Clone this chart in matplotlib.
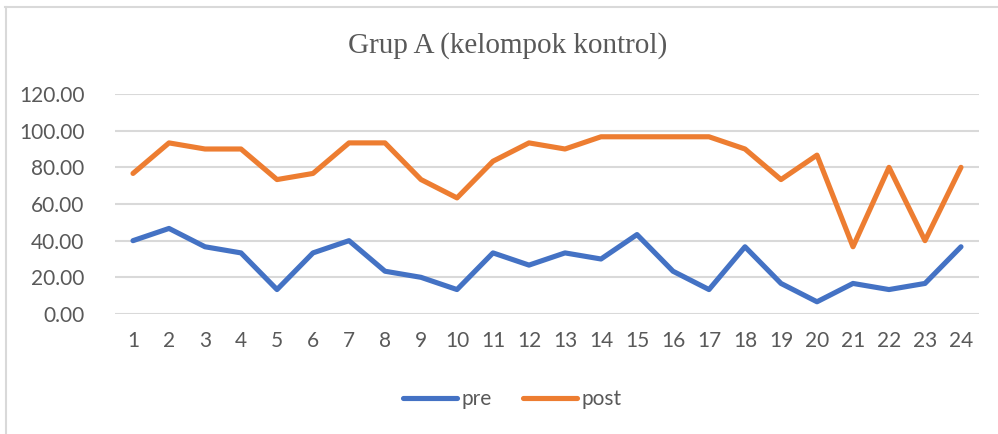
import matplotlib.pyplot as plt
from matplotlib.lines import Line2D

# data
responden = list(range(1, 25))
pre = [40.00, 46.67, 36.67, 33.33, 13.33, 33.33, 40.00, 23.33, 20.00, 13.33,
       33.33, 26.67, 33.33, 30.00, 43.33, 23.33, 13.33, 36.67, 16.67, 6.67,
       16.67, 13.33, 16.67, 36.67]
post = [76.67, 93.33, 90.00, 90.00, 73.33, 76.67, 93.33, 93.33, 73.33, 63.33,
        83.33, 93.33, 90.00, 96.67, 96.67, 96.67, 96.67, 90.00, 73.33, 86.67,
        36.67, 80.00, 40.00, 80.00]
y_ticks = [0, 20, 40, 60, 80, 100, 120]

W, H = 998, 434
txt = '#595959'
grid = '#d9d9d9'

fig = plt.figure(figsize=(W / 100, H / 100), dpi=100)

# chart frame (cropped, only top and left visible)
fig.add_artist(Line2D([5 / W, 1], [1 - 7 / H, 1 - 7 / H], color=grid, lw=1.5))
fig.add_artist(Line2D([6 / W, 6 / W], [0, 1 - 7 / H], color=grid, lw=1.5))

ax = fig.add_axes([115 / W, 1 - 314 / H, (979 - 115) / W, 220 / H])

ax.plot(responden, pre, color='#4472C4', lw=3.7, solid_joinstyle='round',
        solid_capstyle='round', label='pre')
ax.plot(responden, post, color='#ED7D31', lw=3.7, solid_joinstyle='round',
        solid_capstyle='round', label='post')

ax.set_xlim(0.5, 24.5)
ax.set_ylim(0, 120)
ax.set_yticks(y_ticks)
ax.set_yticklabels([f'{v:.2f}' for v in y_ticks])
ax.set_xticks(responden)
ax.set_xticklabels([str(r) for r in responden])

ax.grid(axis='y', color=grid, lw=1.5)
ax.set_axisbelow(True)
for s in ax.spines.values():
    s.set_visible(False)
ax.tick_params(length=0, labelsize=15, labelcolor=txt)
ax.tick_params(axis='y', pad=22)
ax.tick_params(axis='x', pad=12)
for lab in ax.get_xticklabels() + ax.get_yticklabels():
    lab.set_fontfamily('Lato')

fig.text(508 / W, 1 - 46 / H, 'Grup A (kelompok kontrol)', ha='center',
         va='center', fontsize=21, color=txt, family='Liberation Serif')

leg = fig.legend(loc='center', bbox_to_anchor=(512 / W, 1 - 399 / H), ncol=2,
                 frameon=False, prop={'family': 'Lato', 'size': 15},
                 handlelength=2.6, handletextpad=0.2, columnspacing=1.5)
for t in leg.get_texts():
    t.set_color(txt)

fig.savefig('out.png', dpi=100)
